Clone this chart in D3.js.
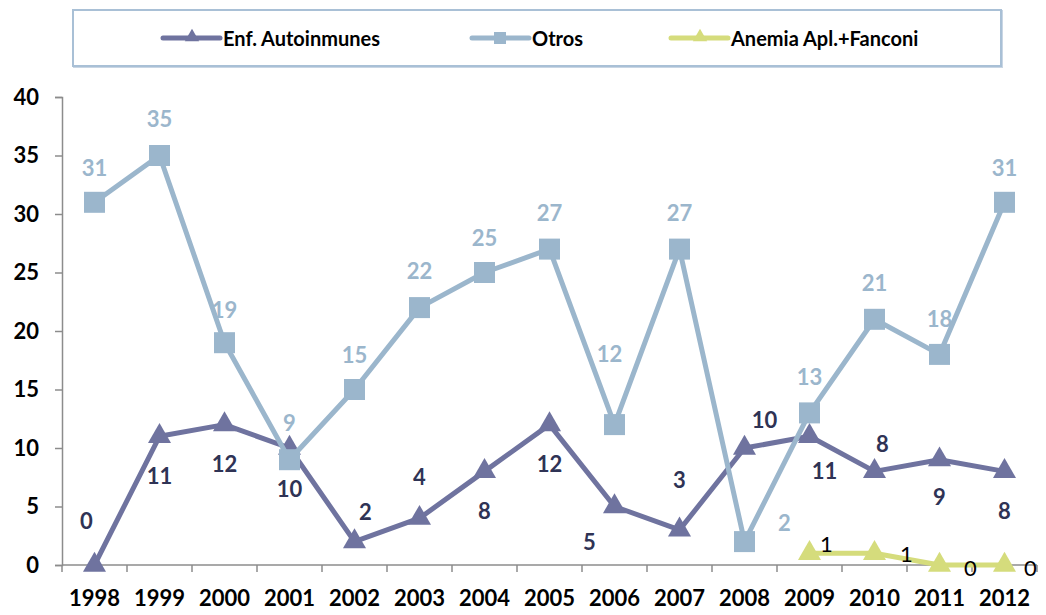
<!DOCTYPE html>
<html>
<head>
<meta charset="utf-8">
<script src="https://cdn.jsdelivr.net/npm/d3@7"></script>
<style>
  body { margin: 0; background: #fff; }
  text { font-family: Lato, "Open Sans", sans-serif; }
</style>
</head>
<body>
<div id="chart"></div>
<script>
// Data
var years = ["1998", "1999", "2000", "2001", "2002", "2003", "2004", "2005", "2006", "2007", "2008", "2009", "2010", "2011", "2012"];
var autoinmunes = [0, 11, 12, 10, 2, 4, 8, 12, 5, 3, 10, 11, 8, 9, 8];
var otros = [31, 35, 19, 9, 15, 22, 25, 27, 12, 27, 2, 13, 21, 18, 31];
var anemiaYears = ["2009", "2010", "2011", "2012"];
var anemia = [1, 1, 0, 0];
var yTicks = [0, 5, 10, 15, 20, 25, 30, 35, 40];

var width = 1046, height = 615;
var margin = { top: 97, right: 9, bottom: 50, left: 62 };
var w = width - margin.left - margin.right,
    h = height - margin.top - margin.bottom;

var svg = d3.select("#chart")
    .append("svg")
    .attr("width", width)
    .attr("height", height);

var g = svg.append("g")
    .attr("transform", "translate(" + margin.left + "," + margin.top + ")");

var x = d3.scaleBand()
    .domain(years)
    .range([0, 975]);

var y = d3.scaleLinear()
    .domain([0, 40])
    .range([h, 0]);

var cx = function (yr) { return x(yr) + x.bandwidth() / 2; };

// Y axis
var yAxis = g.append("g")
    .call(d3.axisLeft(y).tickValues(yTicks).tickSize(7).tickPadding(16));
yAxis.select(".domain").attr("stroke", "#8c8c8c").attr("stroke-width", 1.5);
yAxis.selectAll(".tick line").attr("stroke", "#8c8c8c").attr("stroke-width", 1.5);
yAxis.selectAll(".tick text")
    .style("font-size", "22px").style("font-weight", "bold").attr("fill", "#000");

// X axis: ticks between categories
var xAxisG = g.append("g").attr("transform", "translate(0," + h + ")");
xAxisG.append("line")
    .attr("x1", 0).attr("x2", 975)
    .attr("stroke", "#8c8c8c").attr("stroke-width", 1.5);
xAxisG.selectAll(".xt")
    .data(years.concat(["end"]))
    .enter().append("line")
    .attr("x1", function (d, i) { return i * x.step(); })
    .attr("x2", function (d, i) { return i * x.step(); })
    .attr("y1", 0).attr("y2", 7)
    .attr("stroke", "#8c8c8c").attr("stroke-width", 1.5);
xAxisG.selectAll(".xl")
    .data(years)
    .enter().append("text")
    .attr("x", function (d) { return cx(d); })
    .attr("y", 41)
    .attr("text-anchor", "middle")
    .style("font-size", "22px").style("font-weight", "bold")
    .text(function (d) { return d; });

var colAuto = "#6f739f", colOtros = "#9bb6cc", colAnemia = "#d5dc7c";

var line = d3.line()
    .x(function (d) { return cx(d.year); })
    .y(function (d) { return y(d.value); });

function series(yrs, vals) {
    return yrs.map(function (yr, i) { return { year: yr, value: vals[i] }; });
}

var sAuto = series(years, autoinmunes),
    sOtros = series(years, otros),
    sAnemia = series(anemiaYears, anemia);

var tri = d3.symbol().type(d3.symbolTriangle).size(230);

function drawLine(data, color, marker) {
    g.append("path")
        .datum(data)
        .attr("fill", "none")
        .attr("stroke", color)
        .attr("stroke-width", 5)
        .attr("stroke-linejoin", "round")
        .attr("d", line);
    if (marker === "square") {
        g.selectAll(null)
            .data(data)
            .enter().append("rect")
            .attr("x", function (d) { return cx(d.year) - 10.5; })
            .attr("y", function (d) { return y(d.value) - 10.5; })
            .attr("width", 21).attr("height", 21)
            .attr("fill", color);
    } else {
        g.selectAll(null)
            .data(data)
            .enter().append("path")
            .attr("d", tri)
            .attr("transform", function (d) { return "translate(" + cx(d.year) + "," + y(d.value) + ")"; })
            .attr("fill", color);
    }
}

drawLine(sAnemia, colAnemia, "triangle");
drawLine(sAuto, colAuto, "triangle");
drawLine(sOtros, colOtros, "square");

// label offsets (dx, dy) from each point, as placed in the original
var autoOff = [[-8, -45], [0, 39], [0, 39], [0, 40], [11, -30], [0, -42], [0, 39], [0, 39], [-25, 35], [0, -50], [20, -29], [15, 34], [8, -28], [0, 37], [0, 39]];
var otrosOff = [[0, -35], [0, -37], [0, -33], [0, -37], [0, -35], [0, -37], [0, -35], [0, -37], [-5, -71], [0, -37], [40, -19], [0, -36], [0, -37], [0, -36], [0, -35]];
var anemiaOff = [[17, -10], [32, 0], [31, 2], [26, 2]];

function drawLabels(data, offs, color, weight, size) {
    g.selectAll(null)
        .data(data)
        .enter().append("text")
        .attr("x", function (d, i) { return cx(d.year) + offs[i][0]; })
        .attr("y", function (d, i) { return y(d.value) + offs[i][1]; })
        .attr("text-anchor", "middle")
        .attr("dominant-baseline", "central")
        .attr("fill", color)
        .style("font-weight", weight)
        .style("font-size", size)
        .text(function (d) { return d.value; });
}

drawLabels(sAuto, autoOff, "#2f3355", "bold", "22px");
drawLabels(sOtros, otrosOff, colOtros, "bold", "22px");
drawLabels(sAnemia, anemiaOff, "#000", "normal", "22px");

// Legend
var legend = svg.append("g");
legend.append("rect")
    .attr("x", 74).attr("y", 11)
    .attr("width", 928).attr("height", 56)
    .attr("fill", "none")
    .attr("stroke", "#c9d6e4").attr("stroke-width", 2);
legend.append("rect")
    .attr("x", 73).attr("y", 10)
    .attr("width", 928).attr("height", 56)
    .attr("fill", "#fff")
    .attr("stroke", "#a9c0d6").attr("stroke-width", 2);

var legendItems = [
    { name: "Enf. Autoinmunes", color: colAuto, marker: "triangle", x: 163 },
    { name: "Otros", color: colOtros, marker: "square", x: 472 },
    { name: "Anemia Apl.+Fanconi", color: colAnemia, marker: "triangle", x: 671 }
];
var legTri = d3.symbol().type(d3.symbolTriangle).size(90);
legendItems.forEach(function (it) {
    legend.append("line")
        .attr("x1", it.x).attr("x2", it.x + 57)
        .attr("y1", 38).attr("y2", 38)
        .attr("stroke", it.color).attr("stroke-width", 5)
        .attr("stroke-linecap", "round");
    if (it.marker === "square") {
        legend.append("rect")
            .attr("x", it.x + 22).attr("y", 32)
            .attr("width", 12).attr("height", 12)
            .attr("fill", it.color);
    } else {
        legend.append("path")
            .attr("d", legTri)
            .attr("transform", "translate(" + (it.x + 29) + ",37)")
            .attr("fill", it.color);
    }
    legend.append("text")
        .attr("x", it.x + 60).attr("y", 38)
        .attr("dominant-baseline", "central")
        .style("font-size", "20px").style("font-weight", "bold")
        .attr("fill", "#000")
        .text(it.name);
});
</script>
</body>
</html>
